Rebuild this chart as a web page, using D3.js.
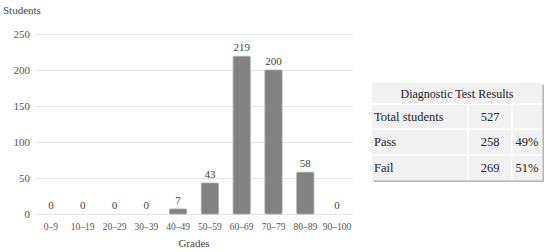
<!DOCTYPE html>
<html>
<head>
<meta charset="utf-8">
<script src="https://cdn.jsdelivr.net/npm/d3@7"></script>
<style>
  body { margin: 0; background: #fff; }
  svg text { font-family: "Liberation Serif", "Times New Roman", "Liberation Sans", sans-serif !important; }
</style>
</head>
<body>
<svg width="550" height="252"></svg>
<script>
var grades = ["0–9", "10–19", "20–29", "30–39", "40–49", "50–59", "60–69", "70–79", "80–89", "90–100"];
var students = [0, 0, 0, 0, 7, 43, 219, 200, 58, 0];
var yTicks = [0, 50, 100, 150, 200, 250];

var tableTitle = "Diagnostic Test Results";
var tableLabels = ["Total students", "Pass", "Fail"];
var tableCounts = ["527", "258", "269"];
var tablePercents = ["", "49%", "51%"];

var svg = d3.select("svg"),
    margin = {top: 34, right: 197, bottom: 38, left: 35},
    width = +svg.attr("width") - margin.left - margin.right,
    height = +svg.attr("height") - margin.top - margin.bottom;

var x = d3.scaleBand().domain(grades).range([0, width]).paddingInner(0.46).paddingOuter(0.23),
    y = d3.scaleLinear().domain([0, 250]).range([height, 0]);

var g = svg.append("g")
    .attr("transform", "translate(" + margin.left + "," + margin.top + ")");

// grid lines
g.append("g")
    .attr("class", "grid")
    .call(d3.axisLeft(y).tickValues(yTicks).tickSize(-width).tickFormat(""))
    .call(function (s) {
        s.select(".domain").remove();
        s.selectAll("line").attr("stroke", "#e3e3e3").attr("stroke-width", 1);
    });

// y axis labels
g.append("g")
    .call(d3.axisLeft(y).tickValues(yTicks).tickSize(0).tickPadding(5))
    .call(function (s) {
        s.select(".domain").remove();
        s.selectAll("text").attr("fill", "#555").style("font-size", "11px");
    });

// x axis labels
g.append("g")
    .attr("transform", "translate(0," + height + ")")
    .call(d3.axisBottom(x).tickSize(0).tickPadding(9))
    .call(function (s) {
        s.select(".domain").remove();
        s.selectAll("text").attr("fill", "#555").style("font-size", "9.5px");
    });

// bars
g.selectAll(".bar")
    .data(students)
    .enter().append("rect")
    .attr("class", "bar")
    .attr("x", function (d, i) { return x(grades[i]); })
    .attr("y", function (d) { return y(d); })
    .attr("width", x.bandwidth())
    .attr("height", function (d) { return height - y(d); })
    .attr("rx", 1)
    .attr("fill", "#828282")
    .attr("stroke", "#a8a8a8")
    .attr("stroke-width", 0.8);

// value labels
g.selectAll(".val")
    .data(students)
    .enter().append("text")
    .attr("class", "val")
    .attr("x", function (d, i) { return x(grades[i]) + x.bandwidth() / 2; })
    .attr("y", function (d) { return y(d) - 5; })
    .attr("text-anchor", "middle")
    .attr("fill", "#444")
    .style("font-size", "11px")
    .text(function (d) { return d; });

// axis titles
svg.append("text")
    .attr("x", 3).attr("y", 14)
    .attr("fill", "#444")
    .style("font-size", "11px")
    .text("Students");

svg.append("text")
    .attr("x", margin.left + width / 2).attr("y", 247)
    .attr("text-anchor", "middle")
    .attr("fill", "#444")
    .style("font-size", "11px")
    .text("Grades");

// table
var tx = 372, ty = 83, tw = 170,
    colX = [0, 96, 140, 170],
    rowH = [21, 25, 26, 25];
var rowY = [0];
rowH.forEach(function (h, i) { rowY.push(rowY[i] + h); });
var th = rowY[rowY.length - 1];

var t = svg.append("g").attr("transform", "translate(" + tx + "," + ty + ")");

t.append("rect").attr("x", 2).attr("y", 2).attr("width", tw).attr("height", th)
    .attr("fill", "#b5b5b5");
t.append("rect").attr("x", 1).attr("y", 1).attr("width", tw).attr("height", th)
    .attr("fill", "#d0d0d0");
t.append("rect").attr("width", tw).attr("height", th).attr("fill", "#f1f1f1");

// row separators
t.selectAll(".rowline")
    .data(rowY.slice(1, -1))
    .enter().append("line")
    .attr("x1", 0).attr("x2", tw)
    .attr("y1", function (d) { return d; }).attr("y2", function (d) { return d; })
    .attr("stroke", "#fff").attr("stroke-width", 1.5);

// column separators (below header)
t.selectAll(".colline")
    .data(colX.slice(1, -1))
    .enter().append("line")
    .attr("x1", function (d) { return d; }).attr("x2", function (d) { return d; })
    .attr("y1", rowY[1]).attr("y2", th)
    .attr("stroke", "#fff").attr("stroke-width", 1.5);

t.append("text")
    .attr("x", tw / 2).attr("y", rowY[0] + 15)
    .attr("text-anchor", "middle")
    .attr("fill", "#222")
    .style("font-size", "12px")
    .text(tableTitle);

tableLabels.forEach(function (lab, i) {
    var yy = rowY[i + 1] + rowH[i + 1] / 2 + 4;
    t.append("text").attr("x", 2).attr("y", yy).attr("fill", "#222")
        .style("font-size", "12.5px").text(lab);
    t.append("text").attr("x", (colX[1] + colX[2]) / 2).attr("y", yy)
        .attr("text-anchor", "middle").attr("fill", "#222")
        .style("font-size", "12.5px").text(tableCounts[i]);
    t.append("text").attr("x", (colX[2] + colX[3]) / 2).attr("y", yy)
        .attr("text-anchor", "middle").attr("fill", "#222")
        .style("font-size", "12.5px").text(tablePercents[i]);
});
</script>
</body>
</html>
